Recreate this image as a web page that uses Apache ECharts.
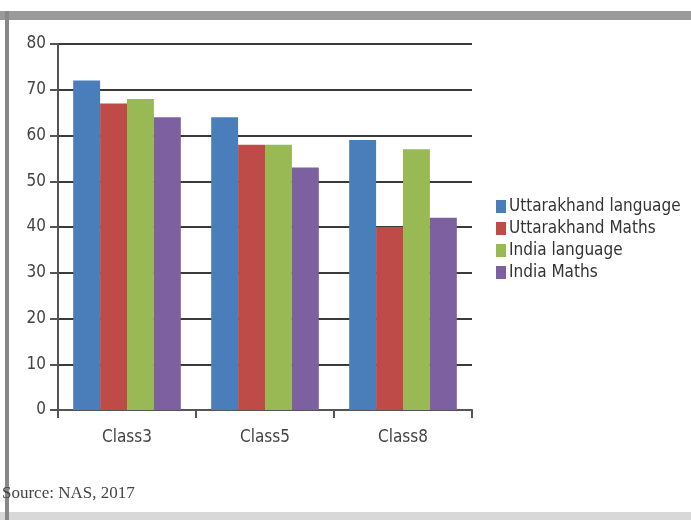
<!DOCTYPE html>
<html>
<head>
<meta charset="utf-8">
<script src="https://cdn.jsdelivr.net/npm/echarts@6/dist/echarts.min.js"></script>
<style>
  html, body { margin: 0; padding: 0; background: #fff; }
  #main { width: 691px; height: 520px; }
</style>
</head>
<body>
<div id="main"></div>
<script>
// categories and values
var classes = ['Class3', 'Class5', 'Class8']
var uttarakhandLanguage = [72, 64, 59]
var uttarakhandMaths = [67, 58, 40]
var indiaLanguage = [68, 58, 57]
var indiaMaths = [64, 53, 42]
var yTicks = [0, 10, 20, 30, 40, 50, 60, 70, 80]

var font = "'Liberation Sans Narrow', 'DejaVu Sans Condensed', 'Open Sans', sans-serif"

function bar(name, data, color) {
  return {
    name: name,
    type: 'bar',
    data: data,
    barGap: '0%',
    barCategoryGap: '22%',
    itemStyle: { color: color },
  }
}

var option = {
  animation: false,
  backgroundColor: '#fff',
  grid: { left: 58, right: 219, top: 44, bottom: 110 },
  legend: {
    orient: 'vertical',
    left: 491,
    top: 193,
    icon: 'rect',
    itemWidth: 10,
    itemHeight: 13,
    itemGap: 5,
    textStyle: { fontFamily: font, fontSize: 17, color: '#333', padding: [0, 0, 0, -2] },
    data: ['Uttarakhand language', 'Uttarakhand Maths', 'India language', 'India Maths'],
  },
  xAxis: {
    type: 'category',
    data: classes,
    axisLine: { show: true, lineStyle: { color: '#555', width: 2 } },
    axisTick: { show: true, length: 8, lineStyle: { color: '#555', width: 2 } },
    axisLabel: { fontFamily: font, fontSize: 17, color: '#444', margin: 19 },
  },
  yAxis: {
    type: 'value',
    min: yTicks[0],
    max: yTicks[yTicks.length - 1],
    interval: 10,
    axisLine: { show: true, lineStyle: { color: '#555', width: 2 } },
    axisTick: { show: true, length: 8, lineStyle: { color: '#555', width: 2 } },
    axisLabel: { fontFamily: font, fontSize: 17, color: '#444', margin: 12 },
    splitLine: { show: true, lineStyle: { color: '#3a3a3a', width: 2 } },
  },
  graphic: [
    // frame of the screenshot
    { type: 'rect', shape: { x: 0, y: 11, width: 691, height: 9 }, style: { fill: '#9a9a9a' } },
    { type: 'rect', shape: { x: 0, y: 512, width: 691, height: 8 }, style: { fill: '#d8d8d8' } },
    { type: 'rect', shape: { x: 5, y: 11, width: 4, height: 509 }, style: { fill: '#888' } },
    {
      type: 'text',
      left: 2,
      top: 485,
      style: {
        text: 'Source: NAS, 2017',
        font: "17px 'Liberation Serif', serif",
        fill: '#444',
      },
    },
  ],
  series: [
    bar('Uttarakhand language', uttarakhandLanguage, '#4a7ebb'),
    bar('Uttarakhand Maths', uttarakhandMaths, '#be4b48'),
    bar('India language', indiaLanguage, '#98b954'),
    bar('India Maths', indiaMaths, '#7d60a0'),
  ],
}

var myChart = echarts.init(document.getElementById('main'))
myChart.setOption(option)
window.addEventListener('resize', function() {
  myChart.resize()
})
</script>
</body>
</html>
